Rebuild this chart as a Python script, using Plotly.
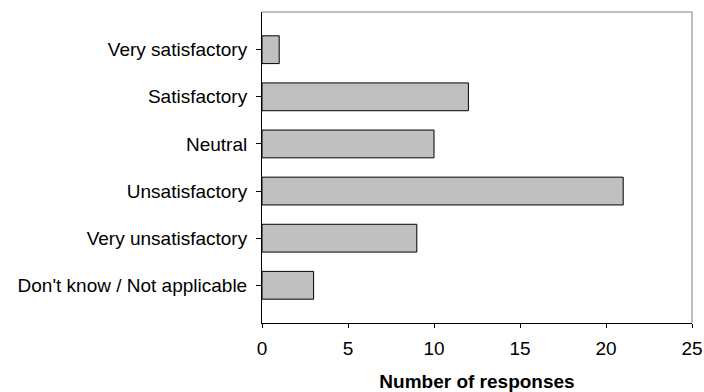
import plotly.graph_objects as go

categories = ["Very satisfactory", "Satisfactory", "Neutral", "Unsatisfactory",
              "Very unsatisfactory", "Don't know / Not applicable"]
responses = [1, 12, 10, 21, 9, 3]
x_ticks = [0, 5, 10, 15, 20, 25]

FONT = "Liberation Sans, Arial, sans-serif"
FS = 19

fig = go.Figure(go.Bar(
    x=responses, y=list(range(len(categories))), orientation="h",
    width=0.59,
    marker=dict(color="#c0c0c0", line=dict(color="black", width=1)),
    hoverinfo="skip",
))

fig.update_layout(
    width=704, height=392,
    margin=dict(l=262, r=12, t=12, b=69, autoexpand=False),
    paper_bgcolor="white", plot_bgcolor="white",
    font=dict(family=FONT, size=FS, color="black"),
    showlegend=False,
    xaxis=dict(
        range=[0, 25], tickvals=x_ticks, ticktext=[str(v) for v in x_ticks],
        showgrid=False, zeroline=False, automargin=False,
        showline=True, linecolor="black", linewidth=1,
        ticks="outside", ticklen=4, tickcolor="black", tickwidth=1,
        ticklabelstandoff=4,
        tickfont=dict(size=FS),
        title=dict(text="<b>Number of responses</b>", font=dict(size=FS), standoff=18),
    ),
    yaxis=dict(
        range=[5.8, -0.8],
        tickvals=list(range(len(categories))), ticktext=categories,
        showgrid=False, zeroline=False, automargin=False,
        showline=True, linecolor="black", linewidth=1,
        ticks="outside", ticklen=5, tickcolor="black", tickwidth=1,
        ticklabelstandoff=5,
        tickfont=dict(size=FS),
    ),
    shapes=[
        dict(type="line", xref="paper", yref="paper", x0=0, x1=1, y0=1, y1=1,
             line=dict(color="#808080", width=1)),
        dict(type="line", xref="paper", yref="paper", x0=1, x1=1, y0=0, y1=1,
             line=dict(color="#808080", width=1)),
    ],
)

fig.write_html("out.html", config={"displayModeBar": False, "responsive": False},
               post_script="document.body.style.margin='0';document.body.style.overflow='hidden';")
